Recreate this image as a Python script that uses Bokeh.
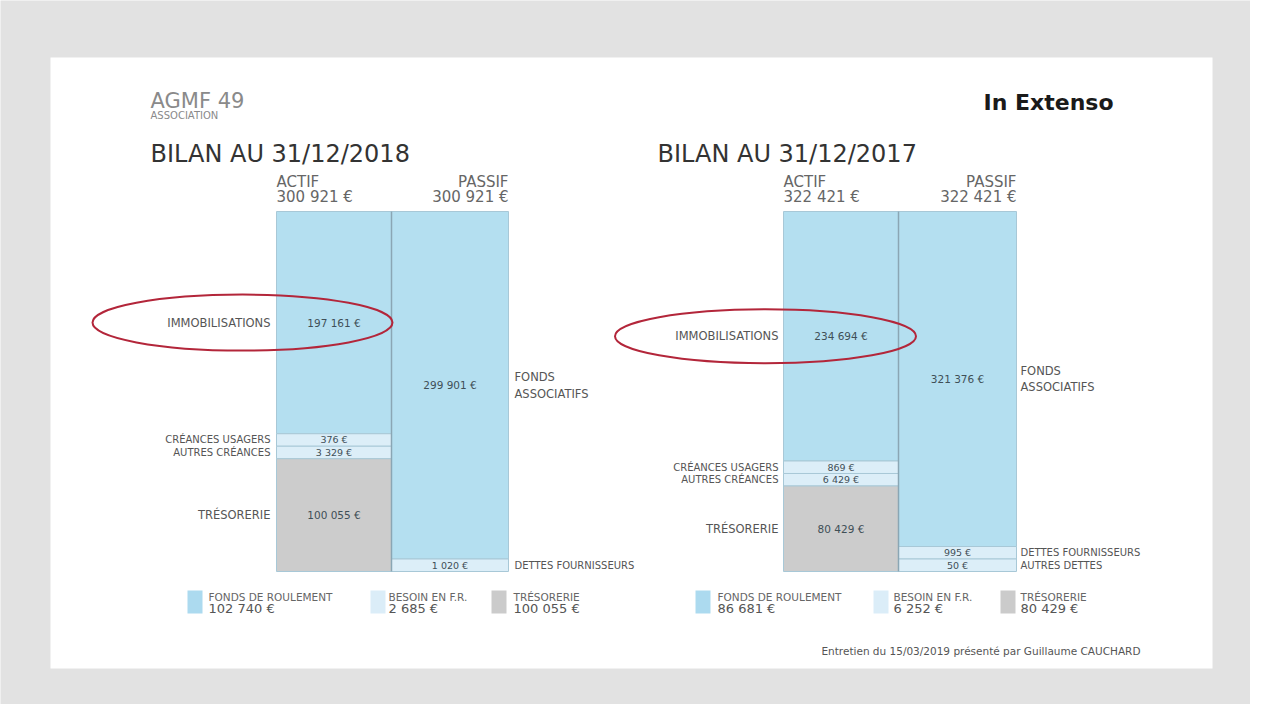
from bokeh.plotting import figure
from bokeh.models import Range1d
from bokeh.embed import file_html
from bokeh.resources import INLINE
from bokeh.core.properties import value

# ---------------- data ----------------
titles = ["BILAN AU 31/12/2018", "BILAN AU 31/12/2017"]
actif_labels = ["IMMOBILISATIONS", "CRÉANCES USAGERS", "AUTRES CRÉANCES", "TRÉSORERIE"]
actif_kinds = ["fr", "bfr", "bfr", "treso"]
actif_2018 = [197161, 376, 3329, 100055]
actif_2017 = [234694, 869, 6429, 80429]
passif_labels_2018 = ["FONDS\nASSOCIATIFS", "DETTES FOURNISSEURS"]
passif_kinds_2018 = ["fr", "bfr"]
passif_2018 = [299901, 1020]
passif_labels_2017 = ["FONDS\nASSOCIATIFS", "DETTES FOURNISSEURS", "AUTRES DETTES"]
passif_kinds_2017 = ["fr", "bfr", "bfr"]
passif_2017 = [321376, 995, 50]
legend_labels = ["FONDS DE ROULEMENT", "BESOIN EN F.R.", "TRÉSORERIE"]
legend_kinds = ["fr", "bfr", "treso"]
legend_2018 = [102740, 2685, 100055]
legend_2017 = [86681, 6252, 80429]

# ---------------- style ----------------
FONT = value("DejaVu Sans")
COLORS = {"fr": "#b4dff0", "bfr": "#dceef8", "treso": "#cccccc"}
LEG_COLORS = {"fr": "#acdaef", "bfr": "#dbedf8", "treso": "#cbcbcb"}
W, H = 1250, 704
BAR_TOP_PX, BAR_BOT_PX = 211.0, 571.0
FRAME_TOP, FRAME_BOT = 0.0, float(H)
MIN_PX = 12.5


def eur(v):
    return f"{v:,}".replace(",", " ") + " €"


def display_values(vals, total):
    px_total = BAR_BOT_PX - BAR_TOP_PX
    mn = total * MIN_PX / px_total
    small = [v < mn for v in vals]
    rest = total - mn * sum(small)
    big = sum(v for v, s in zip(vals, small) if not s)
    return [mn if s else v * rest / big for v, s in zip(vals, small)]


def stack(vals, total):
    disp = display_values(vals, total)
    tops, bots = [], []
    cur = total
    for d in disp:
        tops.append(cur)
        bots.append(cur - d)
        cur -= d
    return tops, bots


charts = [
    dict(key="y2018", title=titles[0], actif=actif_2018,
         passif=passif_2018, passif_labels=passif_labels_2018, passif_kinds=passif_kinds_2018,
         legend=legend_2018, x_title=150, ax0=276, ax1=391, px1=508,
         lab_right=270, plab_left=514, ell_cx=242, ell_w=300, ell_h=56,
         leg_sw=[187, 370, 491], leg_tx=[208, 388, 513]),
    dict(key="y2017", title=titles[1], actif=actif_2017,
         passif=passif_2017, passif_labels=passif_labels_2017, passif_kinds=passif_kinds_2017,
         legend=legend_2017, x_title=657, ax0=783, ax1=898, px1=1016,
         lab_right=778, plab_left=1020, ell_cx=765, ell_w=301, ell_h=54,
         leg_sw=[695, 873, 1000], leg_tx=[717, 893, 1020]),
]

p = figure(width=W, height=H, x_range=Range1d(0, W),
           y_range=Range1d(FRAME_BOT, FRAME_TOP),
           output_backend="svg", toolbar_location=None,
           x_axis_location=None, y_axis_location=None, min_border=0)
p.grid.visible = False
p.outline_line_color = None
p.background_fill_color = "#e2e2e2"
p.border_fill_color = "#e2e2e2"

# slide
p.quad(left=[50], right=[1212], top=[57], bottom=[668], fill_color="white", line_color=None)

# header texts
p.text(x=[150], y=[100], text=["AGMF 49"], text_font=FONT, text_font_size="21px",
       text_color="#8a8a8a", text_baseline="middle")
p.text(x=[150], y=[115], text=["ASSOCIATION"], text_font=FONT, text_font_size="10px",
       text_color="#8a8a8a", text_baseline="middle")
p.text(x=[1113], y=[102], text=["In Extenso"], text_font=FONT, text_font_size="22px",
       text_font_style="bold", text_color="#1a1a1a", text_align="right", text_baseline="middle")
p.text(x=[1140], y=[650], text=["Entretien du 15/03/2019 présenté par Guillaume CAUCHARD"],
       text_font=FONT, text_font_size="10.5px", text_color="#555555",
       text_align="right", text_baseline="middle")

for c in charts:
    key = c["key"]
    total = sum(c["actif"])
    scale = total / (BAR_BOT_PX - BAR_TOP_PX)
    rng = Range1d(start=-(FRAME_BOT - BAR_BOT_PX) * scale, end=(BAR_BOT_PX - FRAME_TOP) * scale)
    p.extra_y_ranges[key] = rng

    ax0, ax1, px1 = c["ax0"], c["ax1"], c["px1"]
    acx = (ax0 + ax1) / 2
    pcx = (ax1 + px1) / 2

    # title and column headers
    p.text(x=[c["x_title"]], y=[153.5], text=[c["title"]], text_font=FONT, text_font_size="24px",
           text_color="#333333", text_baseline="middle")
    p.text(x=[ax0, ax0], y=[181.5, 196], text=["ACTIF", eur(total)], text_font=FONT,
           text_font_size="15px", text_color="#666666", text_baseline="middle")
    p.text(x=[px1, px1], y=[181.5, 196], text=["PASSIF", eur(sum(c["passif"]))], text_font=FONT,
           text_font_size="15px", text_color="#666666", text_baseline="middle", text_align="right")

    # actif stack
    tops, bots = stack(c["actif"], total)
    p.quad(left=[ax0] * 4, right=[ax1] * 4, top=tops, bottom=bots,
           fill_color=[COLORS[k] for k in actif_kinds], line_color="#a8c8d7", line_width=1,
           y_range_name=key)
    mids = [(t + b) / 2 for t, b in zip(tops, bots)]
    big = [k != "bfr" for k in actif_kinds]
    for is_big in (True, False):
        idx = [i for i in range(4) if big[i] == is_big]
        p.text(x=[c["lab_right"]] * len(idx), y=[mids[i] for i in idx],
               text=[actif_labels[i] for i in idx], text_font=FONT,
               text_font_size="11.5px" if is_big else "10px", text_color="#555555",
               text_align="right", text_baseline="middle", y_range_name=key)
        p.text(x=[acx] * len(idx), y=[mids[i] for i in idx],
               text=[eur(c["actif"][i]) for i in idx], text_font=FONT,
               text_font_size="10.5px" if is_big else "9.5px", text_color="#3f4f57",
               text_align="center", text_baseline="middle", y_range_name=key)

    # passif stack
    n = len(c["passif"])
    ptops, pbots = stack(c["passif"], total)
    p.quad(left=[ax1] * n, right=[px1] * n, top=ptops, bottom=pbots,
           fill_color=[COLORS[k] for k in c["passif_kinds"]], line_color="#a8c8d7", line_width=1,
           y_range_name=key)
    pmids = [(t + b) / 2 for t, b in zip(ptops, pbots)]
    for is_big in (True, False):
        idx = [i for i in range(n) if (c["passif_kinds"][i] == "fr") == is_big]
        p.text(x=[c["plab_left"]] * len(idx), y=[pmids[i] for i in idx],
               text=[c["passif_labels"][i] for i in idx], text_font=FONT,
               text_font_size="11.5px" if is_big else "10px", text_color="#555555",
               text_align="left", text_baseline="middle", y_range_name=key)
        p.text(x=[pcx] * len(idx), y=[pmids[i] for i in idx],
               text=[eur(c["passif"][i]) for i in idx], text_font=FONT,
               text_font_size="10.5px" if is_big else "9.5px", text_color="#3f4f57",
               text_align="center", text_baseline="middle", y_range_name=key)

    # separator between actif and passif
    p.segment(x0=[ax1], x1=[ax1], y0=[0], y1=[total], line_color="#8aa6b4", line_width=1.5,
              y_range_name=key)

    # red ellipse around immobilisations
    p.ellipse(x=[c["ell_cx"]], y=[mids[0]], width=[c["ell_w"]], height=[c["ell_h"]],
              width_units="screen", height_units="screen", fill_color=None,
              line_color="#b3263a", line_width=2, y_range_name=key)

    # legend
    sw = c["leg_sw"]
    p.quad(left=sw, right=[s + 15 for s in sw], top=[590] * 3, bottom=[613] * 3,
           fill_color=[LEG_COLORS[k] for k in legend_kinds], line_color=None)
    p.text(x=c["leg_tx"], y=[596] * 3, text=legend_labels, text_font=FONT,
           text_font_size="10.5px", text_color="#666666", text_baseline="middle")
    p.text(x=c["leg_tx"], y=[607.5] * 3, text=[eur(v) for v in c["legend"]], text_font=FONT,
           text_font_size="13px", text_color="#555555", text_baseline="middle")

open("out.html", "w").write(file_html(p, INLINE))
